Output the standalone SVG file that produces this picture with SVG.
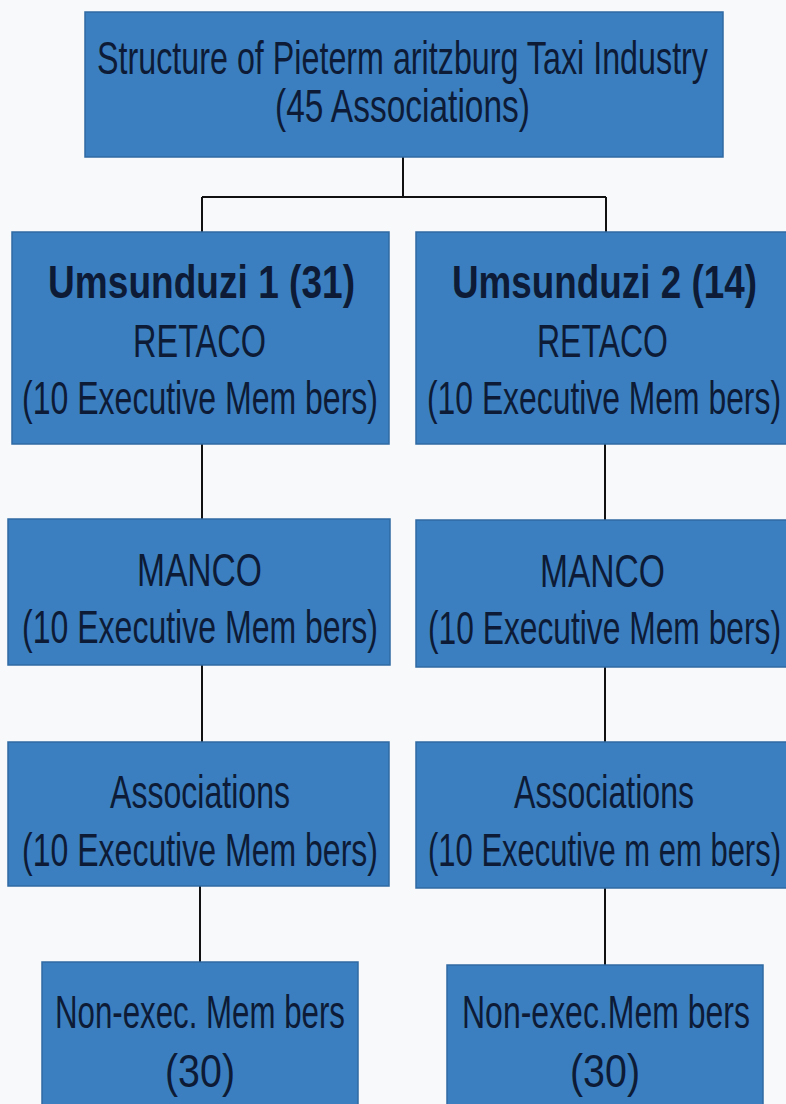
<svg xmlns="http://www.w3.org/2000/svg" width="786" height="1104" viewBox="0 0 786 1104">
  <style>
    .box { fill: #3b7fc0; stroke: #2f6aa3; stroke-width: 1.5; }
    .lbl { font-family: "Liberation Sans Narrow", "Liberation Sans", Arial, sans-serif; font-size: 46px; fill: #0d1b36; text-anchor: start; }
    .bold { font-weight: bold; }
    .wire { fill: none; stroke: #111; stroke-width: 2; }
  </style>
  <rect x="0" y="0" width="786" height="1104" fill="#f8f9fb"/>

  <!-- connectors -->
  <g id="connectors">
    <path class="wire" d="M403 157 V197 M202 197 H606 M202 197 V232 M606 197 V232"/>
    <path class="wire" d="M202 444 V519 M202 665 V742 M200 886 V962"/>
    <path class="wire" d="M605 444 V520 M605 667 V742 M605 888 V965"/>
  </g>

  <g id="root">
    <rect class="box" x="85" y="12" width="638" height="145"/>
    <text class="lbl" x="97" y="74" textLength="611" lengthAdjust="spacingAndGlyphs">Structure of Pieterm aritzburg Taxi Industry</text>
    <text class="lbl" x="275" y="122" textLength="255" lengthAdjust="spacingAndGlyphs">(45 Associations)</text>
  </g>

  <g id="umsunduzi1">
    <rect class="box" x="12" y="232" width="377" height="212"/>
    <text class="lbl bold" x="48" y="298" textLength="307" lengthAdjust="spacingAndGlyphs">Umsunduzi 1 (31)</text>
    <text class="lbl" x="133" y="357" textLength="133" lengthAdjust="spacingAndGlyphs">RETACO</text>
    <text class="lbl" x="22" y="414" textLength="356" lengthAdjust="spacingAndGlyphs">(10 Executive Mem bers)</text>
  </g>

  <g id="umsunduzi2">
    <rect class="box" x="416" y="232" width="374" height="212"/>
    <text class="lbl bold" x="452" y="298" textLength="305" lengthAdjust="spacingAndGlyphs">Umsunduzi 2 (14)</text>
    <text class="lbl" x="537" y="357" textLength="131" lengthAdjust="spacingAndGlyphs">RETACO</text>
    <text class="lbl" x="427" y="414" textLength="354" lengthAdjust="spacingAndGlyphs">(10 Executive Mem bers)</text>
  </g>

  <g id="manco1">
    <rect class="box" x="8" y="519" width="382" height="146"/>
    <text class="lbl" x="137" y="586" textLength="125" lengthAdjust="spacingAndGlyphs">MANCO</text>
    <text class="lbl" x="22" y="643" textLength="356" lengthAdjust="spacingAndGlyphs">(10 Executive Mem bers)</text>
  </g>

  <g id="manco2">
    <rect class="box" x="416" y="520" width="374" height="147"/>
    <text class="lbl" x="540" y="587" textLength="125" lengthAdjust="spacingAndGlyphs">MANCO</text>
    <text class="lbl" x="428" y="644" textLength="353" lengthAdjust="spacingAndGlyphs">(10 Executive Mem bers)</text>
  </g>

  <g id="associations1">
    <rect class="box" x="8" y="742" width="381" height="144"/>
    <text class="lbl" x="110" y="808" textLength="180" lengthAdjust="spacingAndGlyphs">Associations</text>
    <text class="lbl" x="22" y="866" textLength="356" lengthAdjust="spacingAndGlyphs">(10 Executive Mem bers)</text>
  </g>

  <g id="associations2">
    <rect class="box" x="416" y="742" width="374" height="146"/>
    <text class="lbl" x="514" y="808" textLength="180" lengthAdjust="spacingAndGlyphs">Associations</text>
    <text class="lbl" x="428" y="866" textLength="353" lengthAdjust="spacingAndGlyphs">(10 Executive m em bers)</text>
  </g>

  <g id="nonexec1">
    <rect class="box" x="42" y="962" width="316" height="146"/>
    <text class="lbl" x="55" y="1028" textLength="290" lengthAdjust="spacingAndGlyphs">Non-exec. Mem bers</text>
    <text class="lbl" x="165" y="1087" textLength="70" lengthAdjust="spacingAndGlyphs">(30)</text>
  </g>

  <g id="nonexec2">
    <rect class="box" x="447" y="965" width="316" height="143"/>
    <text class="lbl" x="462" y="1028" textLength="288" lengthAdjust="spacingAndGlyphs">Non-exec.Mem bers</text>
    <text class="lbl" x="570" y="1087" textLength="70" lengthAdjust="spacingAndGlyphs">(30)</text>
  </g>
</svg>
